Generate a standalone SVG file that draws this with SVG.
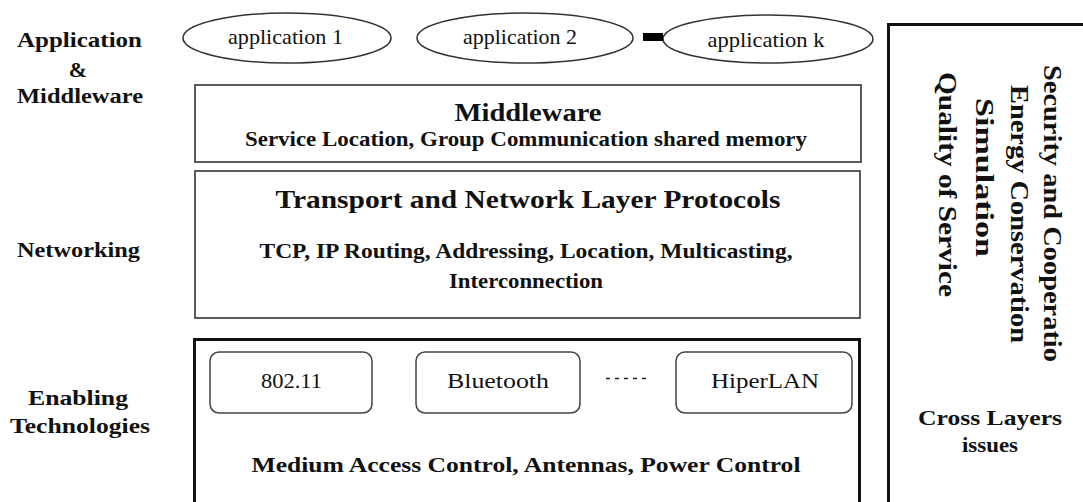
<svg xmlns="http://www.w3.org/2000/svg" width="1083" height="502" viewBox="0 0 1083 502" font-family="'Liberation Serif', 'Times New Roman', Times, serif">
  <style>
    text { font-family: 'Liberation Serif', 'Times New Roman', Times, serif; fill: #111; }
    .lbl { font-weight: bold; font-size: 22px; text-anchor: middle; }
    .app { font-size: 21px; text-anchor: middle; }
    .tech { font-size: 21px; text-anchor: middle; }
    .ttl { font-weight: bold; font-size: 26px; text-anchor: middle; }
    .sub { font-weight: bold; font-size: 22px; text-anchor: middle; }
    .vert { font-weight: bold; font-size: 26px; }
    .oval { fill: #fff; stroke: #333; stroke-width: 1.6; }
    .layer { fill: #fff; stroke: #333; stroke-width: 1.6; }
    .heavy { fill: #fff; stroke: #111; stroke-width: 3; }
    .chip { fill: #fff; stroke: #444; stroke-width: 1.5; }
  </style>

  <rect width="1083" height="502" fill="#fff"/>

  <!-- layer names on the left -->
  <g id="labels">
    <text class="lbl" x="79.5" y="47" textLength="125" lengthAdjust="spacingAndGlyphs">Application</text>
    <text class="lbl" x="78" y="77">&amp;</text>
    <text class="lbl" x="80" y="103" textLength="126" lengthAdjust="spacingAndGlyphs">Middleware</text>
    <text class="lbl" x="78.5" y="257" textLength="123" lengthAdjust="spacingAndGlyphs">Networking</text>
    <text class="lbl" x="78" y="405" textLength="100" lengthAdjust="spacingAndGlyphs">Enabling</text>
    <text class="lbl" x="80" y="433" textLength="140" lengthAdjust="spacingAndGlyphs">Technologies</text>
  </g>

  <!-- applications -->
  <g id="app1">
    <ellipse class="oval" cx="287" cy="38" rx="104" ry="25"/>
    <text class="app" x="285.5" y="44" textLength="115" lengthAdjust="spacingAndGlyphs">application 1</text>
  </g>
  <g id="app2">
    <ellipse class="oval" cx="525" cy="38" rx="108" ry="25"/>
    <text class="app" x="520" y="44" textLength="114" lengthAdjust="spacingAndGlyphs">application 2</text>
  </g>
  <g id="appk">
    <ellipse class="oval" cx="768" cy="39" rx="105" ry="24"/>
    <text class="app" x="766" y="47" textLength="117" lengthAdjust="spacingAndGlyphs">application k</text>
  </g>

  <g id="connectors">
    <rect x="643" y="33" width="20" height="8" fill="#000"/>
  </g>

  <!-- middleware layer -->
  <g id="middleware">
    <rect class="layer" x="195" y="85" width="666" height="77"/>
    <text class="ttl" x="528" y="121" textLength="147" lengthAdjust="spacingAndGlyphs">Middleware</text>
    <text class="sub" x="526" y="146" textLength="562" lengthAdjust="spacingAndGlyphs">Service Location, Group Communication shared memory</text>
  </g>

  <!-- networking layer -->
  <g id="networking">
    <rect class="layer" x="195" y="171" width="665" height="147"/>
    <text class="ttl" x="528" y="208" textLength="505" lengthAdjust="spacingAndGlyphs">Transport and Network Layer Protocols</text>
    <text class="sub" x="526" y="258" textLength="533" lengthAdjust="spacingAndGlyphs">TCP, IP Routing, Addressing, Location, Multicasting,</text>
    <text class="sub" x="526" y="288" textLength="154" lengthAdjust="spacingAndGlyphs">Interconnection</text>
  </g>

  <!-- enabling technologies layer -->
  <g id="enabling">
    <rect class="heavy" x="194.5" y="339.5" width="665" height="300"/>
    <text class="sub" x="526" y="472" textLength="549" lengthAdjust="spacingAndGlyphs">Medium Access Control, Antennas,  Power Control</text>
  </g>
  <g id="wifi">
    <rect class="chip" x="210" y="352" width="162" height="61" rx="9"/>
    <text class="tech" x="291.5" y="388" textLength="61" lengthAdjust="spacingAndGlyphs">802.11</text>
  </g>
  <g id="bluetooth">
    <rect class="chip" x="416" y="352" width="164" height="61" rx="9"/>
    <text class="tech" x="498" y="388" textLength="102" lengthAdjust="spacingAndGlyphs">Bluetooth</text>
  </g>
  <g id="more">
    <line x1="606" y1="378.5" x2="649" y2="378.5" stroke="#222" stroke-width="1.5" stroke-dasharray="4 5"/>
  </g>
  <g id="hiperlan">
    <rect class="chip" x="676" y="352" width="176" height="61" rx="9"/>
    <text class="tech" x="765" y="388" textLength="108" lengthAdjust="spacingAndGlyphs">HiperLAN</text>
  </g>

  <!-- cross layer column -->
  <g id="crosslayer">
    <rect class="heavy" x="888.5" y="24.5" width="300" height="600"/>
    <text class="vert" transform="translate(1044 65) rotate(90)" textLength="297" lengthAdjust="spacingAndGlyphs">Security and Cooperatio</text>
    <text class="vert" transform="translate(1011 85) rotate(90)" textLength="258" lengthAdjust="spacingAndGlyphs">Energy Conservation</text>
    <text class="vert" transform="translate(976 98) rotate(90)" textLength="159" lengthAdjust="spacingAndGlyphs">Simulation</text>
    <text class="vert" transform="translate(939 72) rotate(90)" textLength="225" lengthAdjust="spacingAndGlyphs">Quality of Service</text>
    <text class="sub" x="990" y="425" textLength="144" lengthAdjust="spacingAndGlyphs">Cross Layers</text>
    <text class="sub" x="990" y="452" textLength="56" lengthAdjust="spacingAndGlyphs">issues</text>
  </g>
</svg>
